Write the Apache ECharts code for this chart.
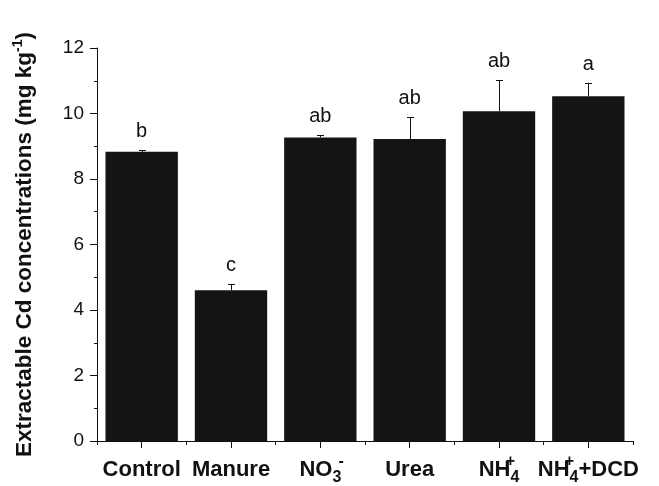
<!DOCTYPE html>
<html>
<head>
<meta charset="utf-8">
<script src="https://cdn.jsdelivr.net/npm/echarts@6/dist/echarts.min.js"></script>
<style>html,body{margin:0;padding:0;background:#fff;}#c{width:659px;height:486px;}</style>
</head>
<body>
<div id="c"></div>
<script>
// Data
var categories = ['Control', 'Manure', 'NO3', 'Urea', 'NH4', 'NH4DCD'];
var categoryLabels = [
  'Control',
  'Manure',
  'NO{sub|3}{sup|-}',
  'Urea',
  'NH{sup|+}{sub|4}',
  'NH{sup|+}{sub|4}+DCD'
];
var means = [8.83, 4.60, 9.27, 9.22, 10.07, 10.53];
var errorTops = [8.88, 4.79, 9.34, 9.88, 11.02, 10.94];
var letters = ['b', 'c', 'ab', 'ab', 'ab', 'a'];
var yTicks = [0, 2, 4, 6, 8, 10, 12];

var FONT = '"Liberation Sans", Arial, Helvetica, sans-serif';
var chart = echarts.init(document.getElementById('c'), null, {renderer: 'canvas'});

var labelRich = {
  sub: {fontSize: 16, fontWeight: 'bold', fontFamily: FONT, color: '#111', verticalAlign: 'bottom', lineHeight: 32},
  sup: {fontSize: 16, fontWeight: 'bold', fontFamily: FONT, color: '#111', verticalAlign: 'top', lineHeight: 32, width: 0}
};

var option = {
  animation: false,
  backgroundColor: '#ffffff',
  grid: {left: 97, right: 26, top: 48, bottom: 43, containLabel: false},
  xAxis: [{
    type: 'category',
    data: categories,
    boundaryGap: true,
    axisLine: {show: true, lineStyle: {color: '#111', width: 1}},
    axisTick: {show: true, length: 4, lineStyle: {color: '#111'}},
    axisLabel: {
      show: true,
      margin: 13,
      fontSize: 22,
      lineHeight: 32,
      fontWeight: 'bold',
      fontFamily: FONT,
      color: '#111',
      interval: 0,
      formatter: function (v, i) { return categoryLabels[i]; },
      rich: labelRich
    },
    splitLine: {show: false}
  }, {
    type: 'category',
    data: categories,
    position: 'bottom',
    boundaryGap: true,
    axisLine: {show: false},
    axisTick: {show: true, alignWithLabel: true, length: 7, lineStyle: {color: '#111'}},
    axisLabel: {show: false},
    splitLine: {show: false}
  }],
  yAxis: {
    type: 'value',
    min: yTicks[0],
    max: yTicks[yTicks.length - 1],
    interval: 2,
    name: 'Extractable Cd concentrations (mg kg{sup|-1})',
    nameLocation: 'middle',
    nameRotate: 90,
    nameGap: 58,
    nameTextStyle: {
      fontSize: 22.5,
      fontWeight: 'bold',
      fontFamily: FONT,
      color: '#111',
      lineHeight: 28,
      rich: {
        sup: {fontSize: 14, fontWeight: 'bold', fontFamily: FONT, color: '#111', verticalAlign: 'top', lineHeight: 28}
      }
    },
    axisLine: {show: true, lineStyle: {color: '#111', width: 1}},
    axisTick: {show: true, length: 7, lineStyle: {color: '#111'}},
    minorTick: {show: true, splitNumber: 2, length: 3, lineStyle: {color: '#111'}},
    axisLabel: {margin: 13, fontSize: 19, fontFamily: FONT, color: '#111'},
    splitLine: {show: false}
  },
  series: [{
    type: 'bar',
    data: means,
    barCategoryGap: '19%',
    itemStyle: {color: '#141414'},
    z: 2
  }, {
    type: 'custom',
    data: categories.map(function (c, i) { return [i, means[i], errorTops[i]]; }),
    renderItem: function (params, api) {
      var i = api.value(0);
      var base = api.coord([i, api.value(1)]);
      var top = api.coord([i, api.value(2)]);
      var x = Math.round(base[0]) + 0.5;
      return {
        type: 'group',
        children: [{
          type: 'line',
          shape: {x1: x, y1: base[1], x2: x, y2: top[1]},
          style: {stroke: '#111', lineWidth: 1}
        }, {
          type: 'line',
          shape: {x1: x - 3.5, y1: Math.round(top[1]) + 0.5, x2: x + 3.5, y2: Math.round(top[1]) + 0.5},
          style: {stroke: '#111', lineWidth: 1}
        }, {
          type: 'text',
          x: base[0],
          y: top[1] - 8.5,
          style: {
            text: letters[params.dataIndex],
            fontSize: 20,
            fontFamily: FONT,
            fill: '#111',
            align: 'center',
            verticalAlign: 'bottom'
          }
        }]
      };
    },
    z: 3
  }]
};
chart.setOption(option);
</script>
</body>
</html>
